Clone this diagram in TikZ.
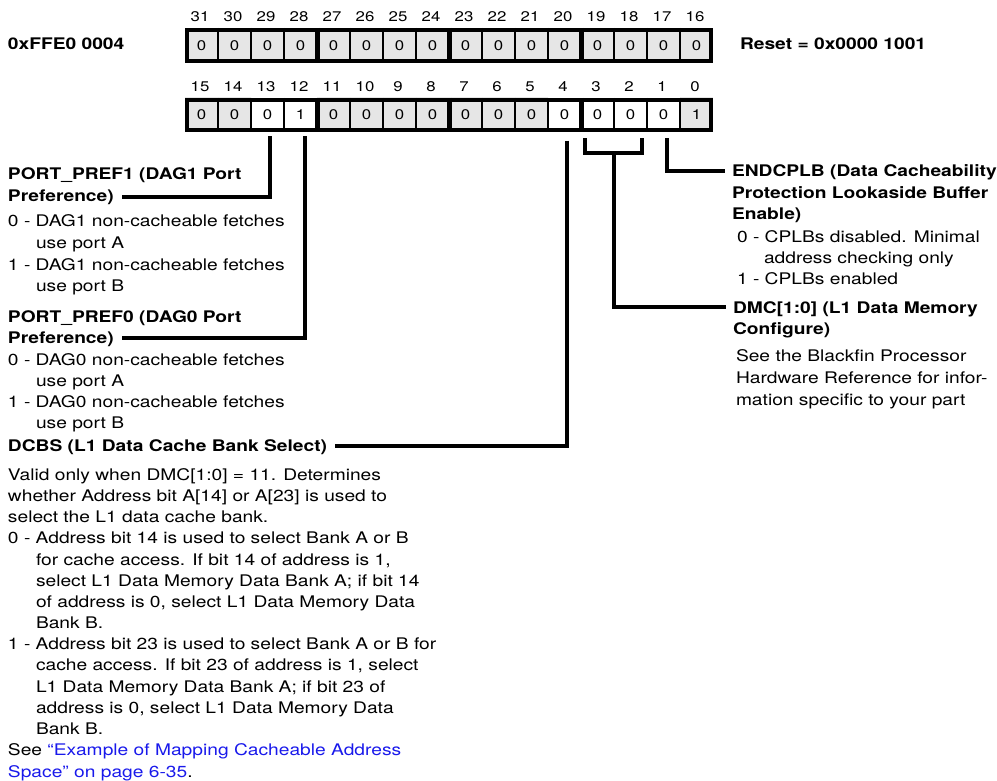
\documentclass[tikz,border=0pt]{standalone}
\usepackage{fontspec}
\setmainfont{TeX Gyre Heros}[FakeStretch=1.2]
\usetikzlibrary{positioning}
\definecolor{shade}{RGB}{230,230,230}
\definecolor{linkblue}{RGB}{25,25,235}
\begin{document}
\begin{tikzpicture}[x=1pt,y=-1pt,
  txt/.style={anchor=base west, inner sep=0pt, outer sep=0pt, font=\fontsize{16}{19}\selectfont},
  btxt/.style={txt, font=\fontsize{16}{19}\selectfont\bfseries},
  cell/.style={rectangle, minimum width=33pt, minimum height=35pt, inner sep=0pt, font=\fontsize{14}{16}\selectfont},
  bitnum/.style={anchor=base, inner sep=0pt, font=\fontsize{14}{16}\selectfont},
  conn/.style={line width=3.2pt, line join=miter},
  thinsep/.style={line width=2.5pt},
  thicksep/.style={line width=5pt},
  frame/.style={line width=4pt}
]
\useasboundingbox (0,0) rectangle (997,781);

% ---------- row 1: bits 31..16 ----------
\foreach \i in {0,...,15} {
  \pgfmathtruncatemacro\bit{31-\i}
  \node[cell, fill=shade] (b\bit) at ({185+33*\i+16.5},45.5) {0};
  \node[bitnum] (n\bit) at ({185+33*\i+15},22) {\bit};
}
% ---------- row 2: bits 15..0 ----------
\foreach \i/\v/\f in {0/0/shade,1/0/shade,2/0/white,3/1/white,4/0/shade,5/0/shade,6/0/shade,7/0/shade,
                      8/0/shade,9/0/shade,10/0/shade,11/0/white,12/0/white,13/0/white,14/0/white,15/1/shade} {
  \pgfmathtruncatemacro\bit{15-\i}
  \node[cell, fill=\f] (b\bit) at ({185+33*\i+16.5},115) {\v};
  \node[bitnum] (n\bit) at ({185+33*\i+15},92) {\bit};
}
% separators and frames
\foreach \yt/\yb in {28/63, 98/132} {
  \foreach \k in {1,2,3,5,6,7,9,10,11,13,14,15}
    \draw[thinsep] ({185+33*\k},\yt) -- ({185+33*\k},\yb);
  \foreach \k in {4,8,12}
    \draw[thicksep] ({185+33*\k},\yt) -- ({185+33*\k},\yb);
  \draw[frame] (187,\yt+2) rectangle (711,\yb-2);
}

% ---------- header texts ----------
\node[btxt] (addr) at (8,50) {0xFFE0 0004};
\node[btxt] (reset) at (740,50) {Reset = 0x0000 1001};

% ---------- left column ----------
\node[btxt] (pp1a) at (8,180) {PORT\_PREF1 (DAG1 Port};
\node[btxt] (pp1) at (8,202) {Preference)};
\node[txt] (l1) at (8,227) {0 - DAG1 non-cacheable fetches};
\node[txt] (l2) at (36,248) {use port A};
\node[txt] (l3) at (8,270) {1 - DAG1 non-cacheable fetches};
\node[txt] (l4) at (36,291) {use port B};
\node[btxt] (pp0a) at (8,322) {PORT\_PREF0 (DAG0 Port};
\node[btxt] (pp0) at (8,343) {Preference)};
\node[txt] (l5) at (8,365) {0 - DAG0 non-cacheable fetches};
\node[txt] (l6) at (36,386) {use port A};
\node[txt] (l7) at (8,407) {1 - DAG0 non-cacheable fetches};
\node[txt] (l8) at (36,428) {use port B};
\node[btxt] (dcbs) at (8,451) {DCBS (L1 Data Cache Bank Select)};
\node[txt] (d1) at (8,480) {Valid only when DMC[1:0] = 11. Determines};
\node[txt] (d2) at (8,501) {whether Address bit A[14] or A[23] is used to};
\node[txt] (d3) at (8,522) {select the L1 data cache bank.};
\node[txt] (d4) at (8,543) {0 - Address bit 14 is used to select Bank A or B};
\node[txt] (d5) at (36,565) {for cache access. If bit 14 of address is 1,};
\node[txt] (d6) at (36,586) {select L1 Data Memory Data Bank A; if bit 14};
\node[txt] (d7) at (36,607) {of address is 0, select L1 Data Memory Data};
\node[txt] (d8) at (36,628) {Bank B.};
\node[txt] (d9) at (8,649) {1 - Address bit 23 is used to select Bank A or B for};
\node[txt] (d10) at (36,670) {cache access. If bit 23 of address is 1, select};
\node[txt] (d11) at (36,692) {L1 Data Memory Data Bank A; if bit 23 of};
\node[txt] (d12) at (36,713) {address is 0, select L1 Data Memory Data};
\node[txt] (d13) at (36,734) {Bank B.};
\node[txt] (d14) at (8,755) {See \textcolor{linkblue}{“Example of Mapping Cacheable Address}};
\node[txt] (d15) at (8,777) {\textcolor{linkblue}{Space” on page 6-35}.};

% ---------- right column ----------
\node[btxt] (endc) at (732,177) {ENDCPLB (Data Cacheability};
\node[btxt] (endc2) at (732,199) {Protection Lookaside Buffer};
\node[btxt] (endc3) at (732,220) {Enable)};
\node[txt] (e1) at (737,243) {0 - CPLBs disabled. Minimal};
\node[txt] (e2) at (764,263) {address checking only};
\node[txt] (e3) at (737,284) {1 - CPLBs enabled};
\node[btxt] (dmc) at (733,313) {DMC[1:0] (L1 Data Memory};
\node[btxt] (dmc2) at (733,334) {Configure)};
\node[txt] (m1) at (736,361) {See the Blackfin Processor};
\node[txt] (m2) at (736,383) {Hardware Reference for infor-};
\node[txt] (m3) at (736,405) {mation specific to your part};

% ---------- connector start points ----------
\coordinate (s13) at ([xshift=2.5pt,yshift=-3.5pt]b13.south);
\coordinate (s12) at ([xshift=4.5pt,yshift=-3.5pt]b12.south);
\coordinate (s4)  at ([xshift=2.5pt,yshift=-8pt]b4.south);
\coordinate (s3)  at ([xshift=-12.5pt,yshift=-5.5pt]b3.south);
\coordinate (s2)  at ([xshift=11.5pt,yshift=-5.5pt]b2.south);
\coordinate (s1)  at ([xshift=3.5pt,yshift=-5.5pt]b1.south);
\coordinate (bm)  at (614,153);

% ---------- connectors ----------
\draw[conn] (s13) |- ([xshift=8pt,yshift=5pt]pp1.base east);
\draw[conn] (s12) |- ([xshift=8pt,yshift=5pt]pp0.base east);
\draw[conn] (s4)  |- ([xshift=8pt,yshift=5pt]dcbs.base east);
\draw[conn] (s1)  |- ([xshift=-7pt,yshift=6pt]endc.base west);
\draw[conn] (s3)  |- (bm) -| (s2);
\draw[conn] (bm)  |- ([xshift=-7pt,yshift=6pt]dmc.base west);
\end{tikzpicture}
\end{document}
